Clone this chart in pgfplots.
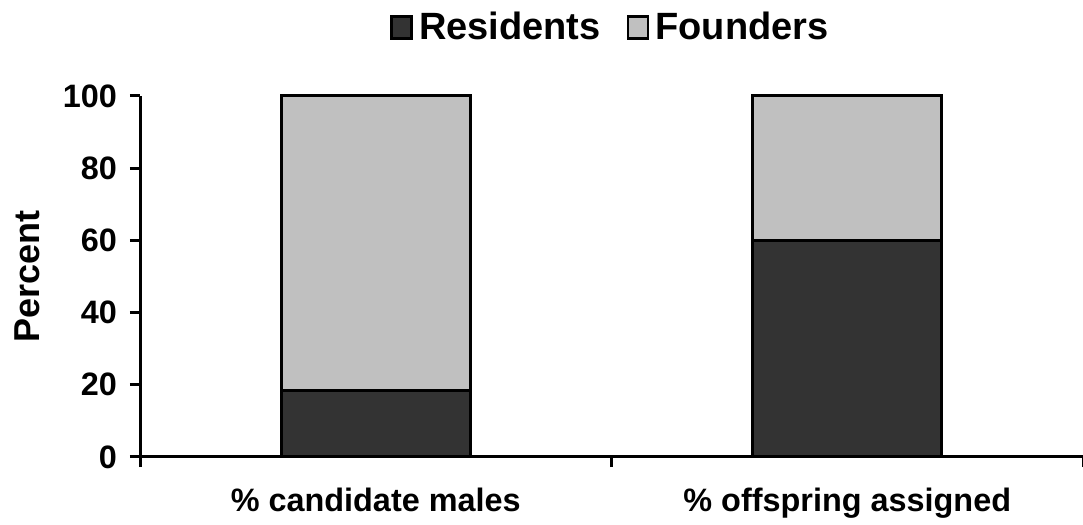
\documentclass[border=0pt]{standalone}
\usepackage{fontspec}
\setmainfont{Liberation Sans}
\usepackage{pgfplots}
\pgfplotsset{compat=1.18}
\definecolor{resid}{HTML}{333333}
\definecolor{found}{HTML}{C0C0C0}
\begin{document}
\begin{tikzpicture}[font=\bfseries]
\useasboundingbox (0,0) rectangle (541.5pt,262.5pt);
\begin{axis}[
  at={(70pt,34pt)}, anchor=south west,
  scale only axis, width=471.5pt, height=180.5pt,
  xmin=-0.5, xmax=1.5, ymin=0, ymax=100,
  axis x line*=bottom, axis y line*=left,
  ybar stacked, bar width=0.4,
  clip=false,
  xtick={-0.5,0.5,1.5}, x tick label as interval,
  xticklabels={\% candidate males, \% offspring assigned},
  ytick={0,20,40,60,80,100},
  tick align=outside, major tick length=5pt,
  every tick/.style={black, line width=1.5pt},
  axis line style={line width=1.5pt},
  /pgf/number format/assume math mode=true,
  tick label style={font=\fontsize{16.2}{19}\selectfont\bfseries},
  yticklabel style={xshift=-3pt},
  xticklabel style={anchor=north, yshift=-7pt},
  ylabel={Percent},
  ylabel style={at={(axis description cs:0,0.5)}, anchor=center, yshift=56.5pt, font=\fontsize{18}{20}\selectfont\bfseries},
  legend style={draw=none, at={(0.5,1.19)}, anchor=center, legend columns=2,
    font=\fontsize{19}{22}\selectfont\bfseries,
    /tikz/every even column/.append style={column sep=11pt}},
  legend image code/.code={\draw[#1, draw=black, line width=1.2pt] (0pt,-5.5pt) rectangle (10pt,5.5pt); \path (11pt,0pt);},
]
\addplot[fill=resid, draw=black, line width=1.5pt] coordinates {(0,18.5) (1,60)};
\addplot[fill=found, draw=black, line width=1.5pt] coordinates {(0,81.5) (1,40)};
\legend{Residents, Founders}
\end{axis}
\end{tikzpicture}
\end{document}
